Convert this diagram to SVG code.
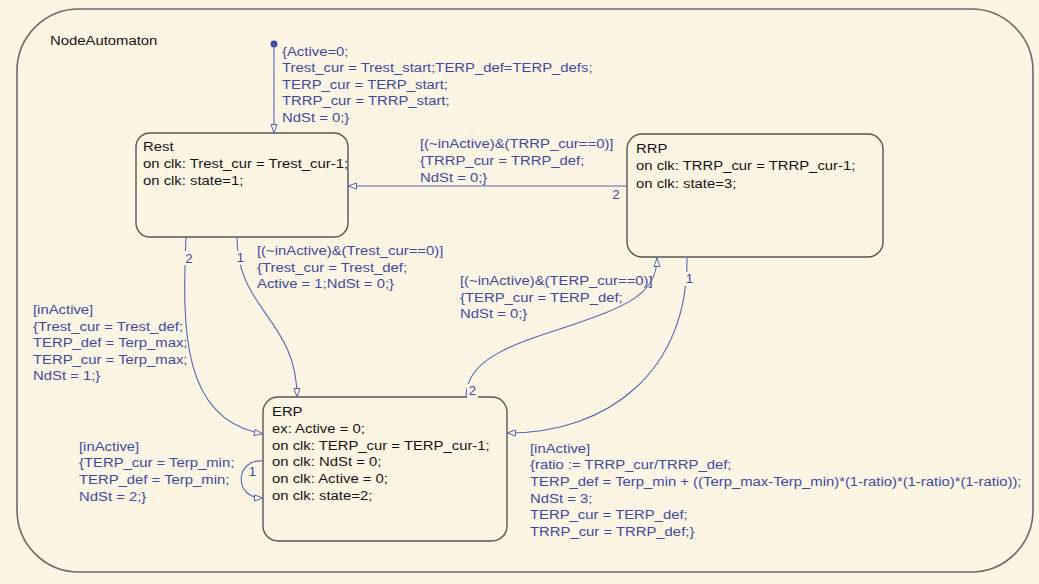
<svg xmlns="http://www.w3.org/2000/svg" width="1039" height="584" viewBox="0 0 1039 584">
<defs>
<style>
.bg{fill:#fdf5e3}
.frame{fill:#fdf5e3;stroke:#6a6a6a;stroke-width:1.6}
.node{fill:#fdf5e3;stroke:#555555;stroke-width:1.4}
.nt{font-family:"Liberation Sans",Arial,sans-serif;font-size:13.5px;fill:#141414}
.lt{font-family:"Liberation Sans",Arial,sans-serif;font-size:13.5px;fill:#3d4aa3}
.num{font-family:"Liberation Sans",Arial,sans-serif;font-size:12px;fill:#3d4aa3;text-anchor:middle}
.conn{fill:none;stroke:#5865b2;stroke-width:1.1;marker-end:url(#arr)}
.gap{fill:#fdf5e3}
</style>
<marker id="arr" viewBox="0 0 10 8" refX="9.5" refY="4" markerWidth="10" markerHeight="8" markerUnits="userSpaceOnUse" orient="auto">
<path d="M1,1 L9.5,4 L1,7 Z" fill="#fdf5e3" stroke="#5865b2" stroke-width="1"/>
</marker>
</defs>
<rect class="bg" x="0" y="0" width="1039" height="584"/>
<g id="NodeAutomaton">
<rect class="frame" x="17" y="9" width="1016" height="563" rx="62" ry="62"/>
<text class="nt" transform="translate(50,45) scale(1.1,1)">NodeAutomaton</text>
</g>
<g id="Rest">
<rect class="node" x="136" y="133" width="212" height="104" rx="14" ry="14"/>
<text class="nt" transform="translate(143,151) scale(1.1,1)"><tspan x="0" y="0">Rest</tspan><tspan x="0" y="17">on clk: Trest_cur = Trest_cur-1;</tspan><tspan x="0" y="34">on clk: state=1;</tspan></text>
</g>
<g id="RRP">
<rect class="node" x="627" y="134" width="256" height="123" rx="15" ry="15"/>
<text class="nt" transform="translate(636,153) scale(1.1,1)"><tspan x="0" y="0">RRP</tspan><tspan x="0" y="17.5">on clk: TRRP_cur = TRRP_cur-1;</tspan><tspan x="0" y="35">on clk: state=3;</tspan></text>
</g>
<g id="ERP">
<rect class="node" x="263" y="397" width="244" height="144" rx="15" ry="15"/>
<text class="nt" transform="translate(272,416) scale(1.1,1)"><tspan x="0" y="0">ERP</tspan><tspan x="0" y="16.8">ex: Active = 0;</tspan><tspan x="0" y="33.6">on clk: TERP_cur = TERP_cur-1;</tspan><tspan x="0" y="50.4">on clk: NdSt = 0;</tspan><tspan x="0" y="67.2">on clk: Active = 0;</tspan><tspan x="0" y="84">on clk: state=2;</tspan></text>
</g>
<g id="connectors">
<circle cx="274" cy="44" r="3.5" fill="#3d4aa3"/>
<path class="conn" d="M274,44 L274,133"/>
<text class="lt" transform="translate(282,56) scale(1.1,1)"><tspan x="0" y="0">{Active=0;</tspan><tspan x="0" y="16.5">Trest_cur = Trest_start;TERP_def=TERP_defs;</tspan><tspan x="0" y="33">TERP_cur = TERP_start;</tspan><tspan x="0" y="49.5">TRRP_cur = TRRP_start;</tspan><tspan x="0" y="66">NdSt = 0;}</tspan></text>

<path class="conn" d="M627,186 L348,186"/>
<text class="num" transform="translate(616,198.5) scale(1.1,1)">2</text>
<text class="lt" transform="translate(420,148.3) scale(1.1,1)"><tspan x="0" y="0">[(~inActive)&amp;(TRRP_cur==0)]</tspan><tspan x="0" y="16.7">{TRRP_cur = TRRP_def;</tspan><tspan x="0" y="33.4">NdSt = 0;}</tspan></text>

<path class="conn" d="M186,237 C182,330 182,420 263,434"/>
<rect class="gap" x="184" y="251" width="10" height="14"/>
<text class="num" transform="translate(189,263) scale(1.1,1)">2</text>
<text class="lt" transform="translate(33,314) scale(1.1,1)"><tspan x="0" y="0">[inActive]</tspan><tspan x="0" y="16.6">{Trest_cur = Trest_def;</tspan><tspan x="0" y="33.2">TERP_def = Terp_max;</tspan><tspan x="0" y="49.8">TERP_cur = Terp_max;</tspan><tspan x="0" y="66.4">NdSt = 1;}</tspan></text>

<path class="conn" d="M237,237 C237,310 297,320 297,397"/>
<rect class="gap" x="236" y="251" width="9" height="14"/>
<text class="num" transform="translate(240.5,262) scale(1.1,1)">1</text>
<text class="lt" transform="translate(257,255) scale(1.1,1)"><tspan x="0" y="0">[(~inActive)&amp;(Trest_cur==0)]</tspan><tspan x="0" y="16.6">{Trest_cur = Trest_def;</tspan><tspan x="0" y="33.2">Active = 1;NdSt = 0;}</tspan></text>

<path class="conn" d="M466,397 C466,360 510,345 566,327 C625,307 657,295 657,258"/>
<rect class="gap" x="467" y="384" width="11" height="15"/>
<text class="num" transform="translate(472.5,395) scale(1.1,1)">2</text>
<text class="lt" transform="translate(460,285) scale(1.1,1)"><tspan x="0" y="0">[(~inActive)&amp;(TERP_cur==0)]</tspan><tspan x="0" y="16.7">{TERP_cur = TERP_def;</tspan><tspan x="0" y="33.4">NdSt = 0;}</tspan></text>

<path class="conn" d="M687,258 C688,370 610,433 507,433"/>
<rect class="gap" x="685" y="272" width="9" height="14"/>
<text class="num" transform="translate(689.5,283.3) scale(1.1,1)">1</text>
<text class="lt" transform="translate(530,452.5) scale(1.1,1)"><tspan x="0" y="0">[inActive]</tspan><tspan x="0" y="16.7">{ratio := TRRP_cur/TRRP_def;</tspan><tspan x="0" y="33.4">TERP_def = Terp_min + ((Terp_max-Terp_min)*(1-ratio)*(1-ratio)*(1-ratio));</tspan><tspan x="0" y="50.1">NdSt = 3;</tspan><tspan x="0" y="66.8">TERP_cur = TERP_def;</tspan><tspan x="0" y="83.5">TRRP_cur = TRRP_def;}</tspan></text>

<path class="conn" d="M263,461 C236,458 232,498 263,498"/>
<text class="num" transform="translate(252.5,476) scale(1.1,1)">1</text>
<text class="lt" transform="translate(79,450.7) scale(1.1,1)"><tspan x="0" y="0">[inActive]</tspan><tspan x="0" y="16.7">{TERP_cur = Terp_min;</tspan><tspan x="0" y="33.4">TERP_def = Terp_min;</tspan><tspan x="0" y="50.1">NdSt = 2;}</tspan></text>
</g>
</svg>
